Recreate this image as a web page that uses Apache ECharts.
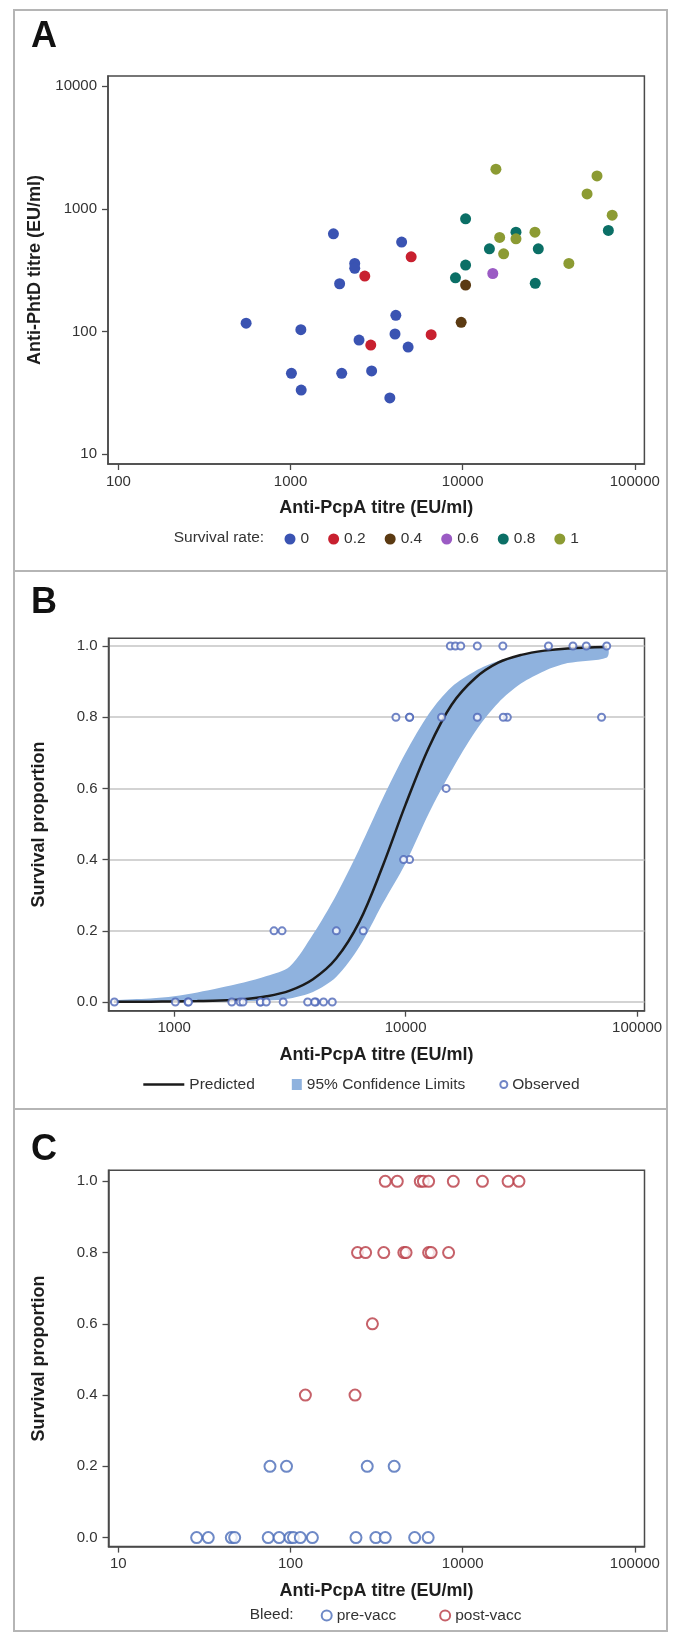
<!DOCTYPE html>
<html><head><meta charset="utf-8">
<script src="https://cdn.jsdelivr.net/npm/echarts@6/dist/echarts.min.js"></script>
<style>html,body{margin:0;padding:0;background:#fff}#c{width:680px;height:1634px}</style>
</head><body><div id="c"></div>
<script>
// ---------- Panel A data (anti-PcpA vs anti-PhtD titres, by survival rate) ----------
const rateNames = ['0', '0.2', '0.4', '0.6', '0.8', '1'];
const rateValues = [0, 0.2, 0.4, 0.6, 0.8, 1];
const pcpA_r0  = [1775, 4420, 2360, 2360, 1928, 552, 1148, 4090, 4045, 2500, 4820, 1012, 1983, 2958, 1153, 3775];
const phtD_r0  = [625, 535, 359, 327, 245, 117, 103.6, 135.5, 95.5, 85.3, 74.8, 45.7, 45.7, 47.8, 33.4, 28.8];
const pcpA_r02 = [5020, 2700, 6560, 2925];
const phtD_r02 = [406, 283, 94.2, 77.6];
const pcpA_r04 = [10400, 9800];
const phtD_r04 = [239, 119];
const pcpA_r06 = [14960];
const phtD_r06 = [297];
const pcpA_r08 = [10400, 20400, 70200, 14300, 27500, 10400, 9080, 26400];
const phtD_r08 = [828, 645, 666, 472, 472, 348, 274, 247];
const pcpA_r1  = [15600, 60300, 52800, 73900, 26300, 16400, 20400, 17300, 41400];
const phtD_r1  = [2100, 1853, 1321, 887, 645, 584, 569, 430, 359];

// ---------- Panel B: fitted curve and 95% limits ----------
const fitX     = [550, 790, 1000, 1260, 1580, 2000, 2510, 3160, 3980, 5010, 6310, 7940, 10000, 12600, 15800, 20000, 25100, 31600, 39800, 50100, 74100];
const fitPred  = [0.0005, 0.001, 0.0015, 0.0025, 0.004, 0.008, 0.016, 0.032, 0.064, 0.122, 0.225, 0.38, 0.555, 0.715, 0.835, 0.91, 0.953, 0.975, 0.987, 0.993, 0.997];
const fitLower = [0, 0, 0.0003, 0.0006, 0.001, 0.002, 0.004, 0.01, 0.028, 0.07, 0.155, 0.275, 0.39, 0.53, 0.65, 0.76, 0.84, 0.895, 0.93, 0.952, 0.968];
const fitUpper = [0.005, 0.01, 0.016, 0.027, 0.04, 0.055, 0.073, 0.10, 0.19, 0.30, 0.43, 0.57, 0.70, 0.81, 0.885, 0.93, 0.958, 0.975, 0.986, 0.992, 0.997];

// ---------- Panel C: pre/post vaccination ----------
const preX  = [76, 94.8, 279, 400, 28.5, 33.3, 45.3, 47.4, 74.2, 85.9, 99.3, 104, 114, 134, 240, 313, 355, 526, 630];
const preY  = [0.2, 0.2, 0.2, 0.2, 0, 0, 0, 0, 0, 0, 0, 0, 0, 0, 0, 0, 0, 0, 0];
const postX = [355, 417, 567, 591, 634, 882, 1302, 1835, 2122, 245, 273, 348, 455, 469, 634, 656, 828, 299, 122, 237];
const postY = [1, 1, 1, 1, 1, 1, 1, 1, 1, 0.8, 0.8, 0.8, 0.8, 0.8, 0.8, 0.8, 0.8, 0.6, 0.4, 0.4];

// ---------- Tick values / labels ----------
const xTicksA = [100, 1000, 10000, 100000];
const yTicksA = [10, 100, 1000, 10000];
const xTicksB = [1000, 10000, 100000];
const yTicksProp = [0, 0.2, 0.4, 0.6, 0.8, 1.0];
const xTicksC = [10, 100, 1000, 10000];
const xTickLabelsC = ['10', '100', '10000', '100000'];

const FONT = 'Liberation Sans, Arial, sans-serif';
const AX = '#4a4a4a';
const rateColors = ['#3a53b2', '#c8202f', '#5b3a12', '#9b5bc4', '#0b6f66', '#8c9b33'];
const bandColor = '#8fb2de';
const obsColor = '#4d66b8';
const preColor = '#4a6cb8';
const postColor = '#b83a44';
const frameColor = '#b5b5b5';
const FR = 667; // right edge of the outer frame

const groupsX = [pcpA_r0, pcpA_r02, pcpA_r04, pcpA_r06, pcpA_r08, pcpA_r1];
const groupsY = [phtD_r0, phtD_r02, phtD_r04, phtD_r06, phtD_r08, phtD_r1];

function axis(gridIndex, type, min, max, ticks, fmt, name, nameGap, isY, extra) {
  const a = {
    type, gridIndex, min, max, name, nameLocation: 'middle', nameGap,
    nameRotate: isY ? 90 : 0,
    nameTextStyle: { fontFamily: FONT, fontSize: 18, fontWeight: 'bold', color: '#1e1e1e' },
    axisLine: { show: true, onZero: false, lineStyle: { color: AX, width: 1.5 } },
    axisTick: { show: true, inside: false, length: 6, customValues: ticks, lineStyle: { color: AX, width: 1.3 } },
    axisLabel: { show: true, customValues: ticks, formatter: fmt, margin: isY ? 11 : 10,
      fontFamily: FONT, fontSize: 15, color: '#333' },
    splitLine: { show: false },
    minorTick: { show: false }
  };
  if (type === 'log') a.logBase = 10;
  return Object.assign(a, extra || {});
}

const series = [];
groupsX.forEach((gx, gi) => {
  series.push({
    type: 'scatter', name: rateNames[gi], xAxisIndex: 0, yAxisIndex: 0,
    symbol: 'circle', symbolSize: 11,
    itemStyle: { color: rateColors[gi], opacity: 1 },
    data: gx.map((x, i) => [x, groupsY[gi][i]])
  });
});
series.push({
  type: 'custom', name: '95% Confidence Limits', xAxisIndex: 1, yAxisIndex: 1,
  itemStyle: { color: bandColor }, clip: true, z: 1,
  data: fitX.map((x, i) => [x, fitLower[i], fitUpper[i]]),
  encode: { x: 0, y: [1, 2] },
  renderItem: function (params, api) {
    if (params.dataIndex !== 0) return null;
    const up = fitX.map((x, i) => api.coord([x, fitUpper[i]]));
    const lo = fitX.map((x, i) => api.coord([x, fitLower[i]])).reverse();
    return { type: 'polygon', shape: { points: up.concat(lo), smooth: 0.3 }, style: { fill: bandColor } };
  }
});
series.push({
  type: 'line', name: 'Predicted', xAxisIndex: 1, yAxisIndex: 1, smooth: 0.35,
  symbol: 'none', z: 3,
  lineStyle: { color: '#1b1b1b', width: 2.5 }, itemStyle: { color: '#1b1b1b' },
  data: fitX.map((x, i) => [x, fitPred[i]])
});
const obsData = [];
groupsX.forEach((gx, gi) => gx.forEach(x => obsData.push([x, rateValues[gi]])));
series.push({
  type: 'scatter', name: 'Observed', xAxisIndex: 1, yAxisIndex: 1, z: 4,
  symbol: 'emptyCircle', symbolSize: 7,
  itemStyle: { color: obsColor, borderColor: obsColor, borderWidth: 1.2 },
  data: obsData
});
series.push({
  type: 'scatter', name: 'pre-vacc', xAxisIndex: 2, yAxisIndex: 2,
  symbol: 'emptyCircle', symbolSize: 11,
  itemStyle: { color: preColor, borderColor: preColor, borderWidth: 1.3 },
  data: preX.map((x, i) => [x, preY[i]])
});
series.push({
  type: 'scatter', name: 'post-vacc', xAxisIndex: 2, yAxisIndex: 2,
  symbol: 'emptyCircle', symbolSize: 11,
  itemStyle: { color: postColor, borderColor: postColor, borderWidth: 1.3 },
  data: postX.map((x, i) => [x, postY[i]])
});

const legendText = { fontFamily: FONT, fontSize: 15.5, color: '#333' };
const letter = (t, y) => ({ type: 'text', x: 31, y, silent: true,
  style: { text: t, font: 'bold 36px ' + FONT, fill: '#111', verticalAlign: 'middle', align: 'left' } });
const option = {
  animation: false,
  backgroundColor: '#fff',
  grid: [
    { left: 108, top: 76, width: 536.4, height: 388, show: true, borderColor: AX, borderWidth: 1.5 },
    { left: 108.5, top: 638.3, width: 536, height: 372.4, show: true, borderColor: AX, borderWidth: 1.5 },
    { left: 108.5, top: 1170.3, width: 536, height: 376.3, show: true, borderColor: AX, borderWidth: 1.5 }
  ],
  xAxis: [
    axis(0, 'log', 87, 113700, xTicksA, v => String(Math.round(v)), 'Anti-PcpA titre (EU/ml)', 35, false),
    axis(1, 'log', 520.6, 107600, xTicksB, v => String(Math.round(v)), 'Anti-PcpA titre (EU/ml)', 35, false),
    axis(2, 'log', 8.77, 11370, xTicksC, v => {
      const i = xTicksC.findIndex(t => Math.abs(Math.log10(t) - Math.log10(v)) < 1e-6);
      return i >= 0 ? xTickLabelsC[i] : '';
    }, 'Anti-PcpA titre (EU/ml)', 35, false)
  ],
  yAxis: [
    axis(0, 'log', 8.34, 12060, yTicksA, v => String(Math.round(v)), 'Anti-PhtD titre (EU/ml)', 60, true),
    axis(1, 'value', -0.0244, 1.0216, yTicksProp, v => v.toFixed(1), 'Survival proportion', 60, true,
      { splitLine: { show: true, lineStyle: { color: '#c4c4c4', width: 1.5 } } }),
    axis(2, 'value', -0.0253, 1.031, yTicksProp, v => v.toFixed(1), 'Survival proportion', 60, true)
  ],
  legend: [
    { data: rateNames, left: 284.5, top: 531, padding: 0, itemGap: 19, itemWidth: 11, itemHeight: 11,
      icon: 'circle', selectedMode: false, textStyle: legendText },
    { data: [{ name: 'Predicted', icon: 'rect' }], left: 143.3, top: 1076.5, padding: 0, itemWidth: 41, itemHeight: 2.6,
      selectedMode: false, textStyle: legendText },
    { data: [{ name: '95% Confidence Limits', icon: 'rect' }], left: 291.8, top: 1076.5, padding: 0,
      itemWidth: 10, itemHeight: 11, selectedMode: false, textStyle: legendText },
    { data: [{ name: 'Observed', icon: 'emptyCircle' }], left: 499.3, top: 1076.5, padding: 0,
      itemWidth: 7, itemHeight: 7, selectedMode: false, textStyle: legendText },
    { data: [{ name: 'pre-vacc', icon: 'emptyCircle' }, { name: 'post-vacc', icon: 'emptyCircle' }],
      left: 320.7, top: 1607.5, padding: 0, itemGap: 43, itemWidth: 10, itemHeight: 10,
      selectedMode: false, textStyle: legendText }
  ],
  graphic: [
    { type: 'rect', silent: true, shape: { x: 14, y: 10, width: FR - 14, height: 1621 },
      style: { fill: 'none', stroke: frameColor, lineWidth: 2 } },
    { type: 'line', silent: true, shape: { x1: 14, y1: 571, x2: FR, y2: 571 },
      style: { stroke: frameColor, lineWidth: 2 } },
    { type: 'line', silent: true, shape: { x1: 14, y1: 1109, x2: FR, y2: 1109 },
      style: { stroke: frameColor, lineWidth: 2 } },
    letter('A', 37),
    letter('B', 603),
    letter('C', 1150),
    { type: 'text', left: 173.7, top: 530, silent: true, style: { text: 'Survival rate:', font: '15.5px ' + FONT, fill: '#333' } },
    { type: 'text', left: 249.7, top: 1607, silent: true, style: { text: 'Bleed:', font: '15.5px ' + FONT, fill: '#333' } }
  ],
  series
};
const chart = echarts.init(document.getElementById('c'), null, { renderer: 'canvas', width: 680, height: 1634 });
chart.setOption(option);
</script>
</body></html>
